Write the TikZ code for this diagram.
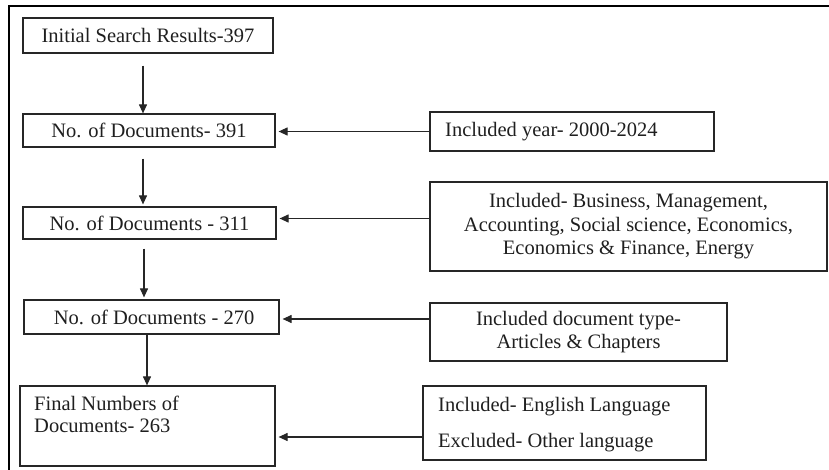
\documentclass[tikz,border=0pt]{standalone}
\usepackage{fontspec}
\setmainfont{Liberation Serif}
\usetikzlibrary{arrows.meta,calc}
\begin{document}
\begin{tikzpicture}[x=1pt,y=-1pt,
  box/.style={draw=black!85,line width=1.2pt,rectangle,inner sep=0pt,
    font=\fontsize{20.5}{23.5}\selectfont,text=black!88},
  txt/.style={inner sep=0pt,font=\fontsize{20.5}{22}\selectfont,text=black!88},
  arr/.style={draw=black!85,line width=1.1pt,-{Triangle[length=9pt,width=8pt]}},
  harr/.style={arr,shorten >=3pt}]
\useasboundingbox (0,0) rectangle (829,470);
\draw[line width=2pt,black] (9,470) -- (9,6) -- (829,6);
% left column
\node[box,minimum width=250,minimum height=35] (b1) at (148,35.5) {Initial Search Results-397};
\node[box,minimum width=252,minimum height=33] (b2) at (149,130.5) {No. of Documents- 391};
\node[box,minimum width=253,minimum height=32] (b3) at (149.5,223) {No. of Documents - 311};
\node[box,minimum width=255,minimum height=34] (b4) at (151.5,317) {\ No. of Documents - 270};
\node[box,minimum width=255,minimum height=80] (b5) at (147.5,426) {};
\node[txt,anchor=north west,align=left] (t5) at (34,396) {Final Numbers of\\Documents- 263};
% right column
\node[box,minimum width=284,minimum height=39] (r1) at (572,131.5) {};
\node[txt,anchor=west] (t1) at (445,131.5) {Included year- 2000-2024};
\node[box,minimum width=397,minimum height=89,align=center] (r2) at (628.5,226.5)
  {Included- Business, Management,\\Accounting, Social science, Economics,\\Economics \& Finance, Energy};
\node[box,minimum width=297,minimum height=58,align=center] (r3) at (578.5,332)
  {Included document type-\\Articles \& Chapters};
\node[box,minimum width=283,minimum height=74] (r4) at (564.5,423) {};
\node[txt,anchor=west,align=left] (t4) at (438,425)
  {Included- English Language\\[14pt]Excluded- Other language};
% vertical arrows
\draw[arr] ([xshift=-5pt,yshift=-12pt]b1.south) -- ([xshift=-5pt]b1.south |- b2.north);
\draw[arr] ([xshift=-6pt,yshift=-11pt]b2.south) -- ([xshift=-6pt,yshift=2pt]b2.south |- b3.north);
\draw[arr] ([xshift=-5.5pt,yshift=-9pt]b3.south) -- ([xshift=-5.5pt,yshift=2pt]b3.south |- b4.north);
\draw[arr] ([xshift=-4.5pt]b4.south) -- ([xshift=-4.5pt]b4.south |- b5.north);
% horizontal arrows
\draw[harr] (r1.west) -- (r1.west -| b2.east);
\draw[harr] ([yshift=8pt]r2.west) -- ([yshift=8pt]r2.west -| b3.east);
\draw[harr] ([yshift=13pt]r3.west) -- ([yshift=13pt]r3.west -| b4.east);
\draw[harr] ([yshift=-14pt]r4.west) -- ([yshift=-14pt]r4.west -| b5.east);
\end{tikzpicture}
\end{document}
